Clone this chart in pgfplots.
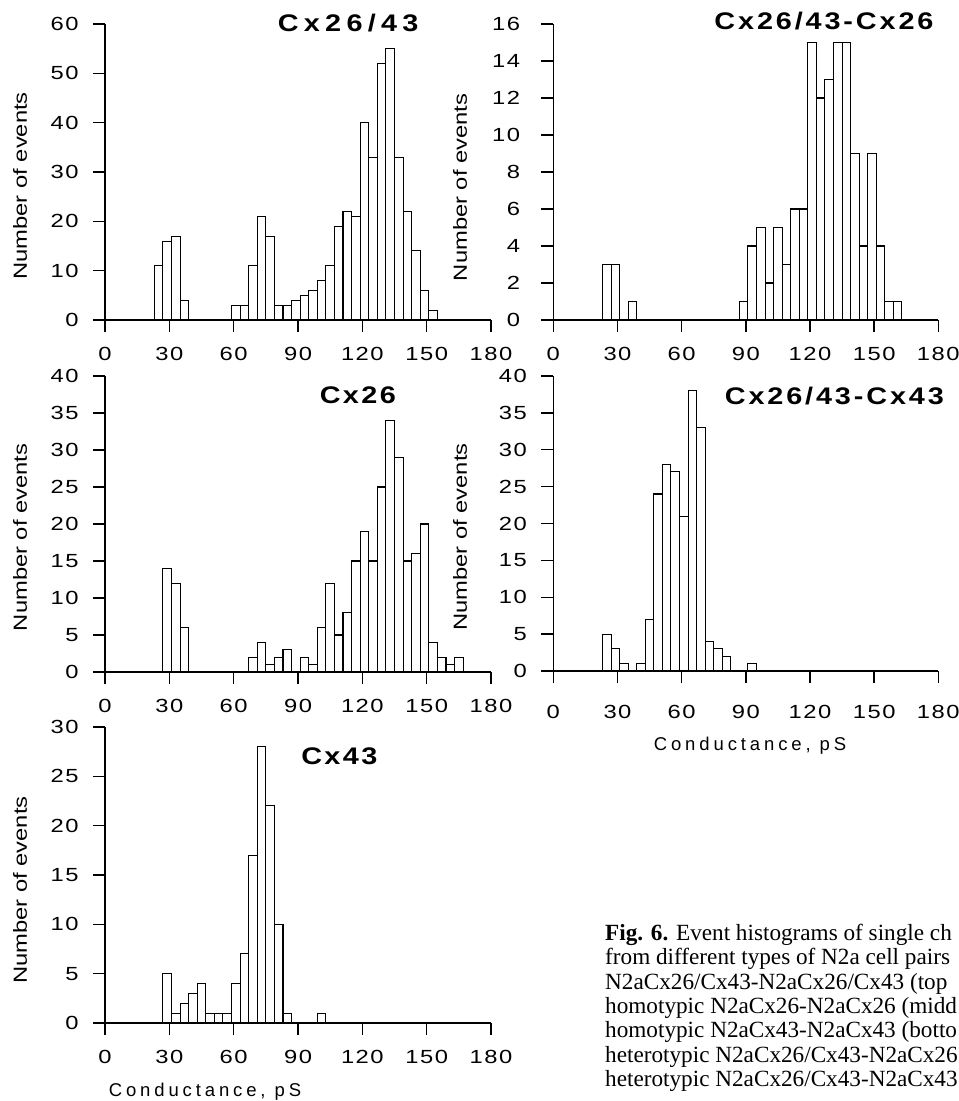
\documentclass[border=0pt]{standalone}
\usepackage{fontspec}
\usepackage{pgfplots}
\pgfplotsset{compat=1.18}
\setmainfont{Liberation Sans}
\newfontfamily\tickfont{Liberation Sans}[FakeStretch=1.25,LetterSpace=8]
\newfontfamily\ylabfont{Liberation Sans}[FakeStretch=1.25]
\newfontfamily\titlefont{Liberation Sans}[FakeStretch=1.2]
\newfontfamily\xlabfont{Liberation Sans}[LetterSpace=21]
\newfontfamily\capfont{Liberation Serif}

\pgfplotsset{
  hist/.style={
    scale only axis, width=386bp, height=296bp,
    xmin=0, xmax=180, ymin=0, enlargelimits=false, clip=false,
    axis lines=left, axis line style={-, line width=1.4bp},
    tick align=outside, major tick length=12bp,
    tick style={line width=1.4bp, black},
    xtick={0,30,...,180},
    /pgf/number format/assume math mode=true,
    tick label style={font=\tickfont\fontsize{19bp}{19bp}\selectfont},
    xticklabel style={yshift=-12bp},
    yticklabel style={xshift=-11bp},
    every axis y label/.style={rotate=90, anchor=center, font=\ylabfont\fontsize{19bp}{19bp}\selectfont},
    every axis x label/.style={anchor=base, font=\xlabfont\fontsize{18.5bp}{19bp}\selectfont},
    ylabel={Number of events},
  },
  bars/.style={ybar interval, draw=black, fill=white, line width=1.1bp},
}
\tikzset{
  ttl/.style={anchor=base, font=\titlefont\bfseries\fontsize{24bp}{24bp}\selectfont\addfontfeatures{LetterSpace=#1}},
  capline/.style={anchor=base west, inner sep=0pt, font=\capfont\fontsize{23.2bp}{24bp}\selectfont},
}

\begin{document}
\begin{tikzpicture}
\useasboundingbox (0,0) rectangle (959bp,1101bp);

% Cx26/43
\begin{axis}[hist, at={(105bp,781bp)}, anchor=south west,
  ymax=60, ytick={0,10,...,60},
  ylabel style={at={(axis description cs:-0.220,0.453)}}]
\addplot[bars] coordinates {(23,11) (27,16) (31,17) (35,4) (39,4)};
\addplot[bars] coordinates {(59,3) (63,3) (67,11) (71,21) (75,17) (79,3) (83,3) (87,4)
  (91,5) (95,6) (99,8) (103,11) (107,19) (111,22) (115,21) (119,40) (123,33)
  (127,52) (131,55) (135,33) (139,22) (143,14) (147,6) (151,2) (155,2)};
\node[ttl=22] at (axis description cs:0.630,0.976) {Cx26/43};
\end{axis}

% Cx26/43-Cx26
\begin{axis}[hist, at={(553.3bp,781bp)}, anchor=south west, width=385bp,
  ymax=16, ytick={0,2,...,16}, yticklabel style={xshift=-6.6bp},
  ylabel style={at={(axis description cs:-0.242,0.448)}}]
\addplot[bars] coordinates {(23,3) (27,3) (31,3)};
\addplot[bars] coordinates {(35,1) (39,1)};
\addplot[bars] coordinates {(87,1) (91,4) (95,5) (99,2) (103,5) (107,3) (111,6) (115,6)
  (119,15) (123,12) (127,13) (131,15) (135,15) (139,9) (143,4) (147,9) (151,4)
  (155,1) (159,1) (163,1)};
\node[ttl=12] at (axis description cs:0.703,0.980) {Cx26/43-Cx26};
\end{axis}

% Cx26
\begin{axis}[hist, at={(105bp,429bp)}, anchor=south west,
  ymax=40, ytick={0,5,...,40},
  ylabel style={at={(axis description cs:-0.220,0.455)}}]
\addplot[bars] coordinates {(27,14) (31,12) (35,6) (39,6)};
\addplot[bars] coordinates {(67,2) (71,4) (75,1) (79,2) (83,3) (87,3)};
\addplot[bars] coordinates {(91,2) (95,1) (99,6) (103,12) (107,5) (111,8) (115,15)
  (119,19) (123,15) (127,25) (131,34) (135,29) (139,15) (143,16) (147,20) (151,4)
  (155,2) (159,1) (163,2) (167,2)};
\node[ttl=10] at (axis description cs:0.655,0.908) {Cx26};
\end{axis}

% Cx26/43-Cx43
\begin{axis}[hist, at={(553.3bp,430bp)}, anchor=south west, width=385bp, height=295bp,
  ymax=40, ytick={0,5,...,40}, xticklabel style={yshift=-6.5bp},
  ylabel style={at={(axis description cs:-0.242,0.454)}},
  xlabel={Conductance, pS},
  xlabel style={at={(axis description cs:0.511,-0.27)}}]
\addplot[bars] coordinates {(23,5) (27,3) (31,1) (35,1)};
\addplot[bars] coordinates {(39,1) (43,7) (47,24) (51,28) (55,27) (59,21) (63,38)
  (67,33) (71,4) (75,3) (79,2) (83,2)};
\addplot[bars] coordinates {(91,1) (95,1)};
\node[ttl=12] at (axis description cs:0.730,0.905) {Cx26/43-Cx43};
\end{axis}

% Cx43
\begin{axis}[hist, at={(105bp,78bp)}, anchor=south west,
  ymax=30, ytick={0,5,...,30},
  ylabel style={at={(axis description cs:-0.220,0.449)}},
  xlabel={Conductance, pS},
  xlabel style={at={(axis description cs:0.259,-0.247)}}]
\addplot[bars] coordinates {(27,5) (31,1) (35,2) (39,3) (43,4) (47,1) (51,1) (55,1)
  (59,4) (63,7) (67,17) (71,28) (75,22) (79,10) (83,1) (87,1)};
\addplot[bars] coordinates {(99,1) (103,1)};
\node[ttl=10] at (axis description cs:0.607,0.874) {Cx43};
\end{axis}

% caption
\node[capline] at (605bp,160.3bp) {\textbf{Fig. 6.} Event histograms of single ch};
\node[capline] at (605bp,136.0bp) {from different types of N2a cell pairs};
\node[capline] at (605bp,111.7bp) {N2aCx26/Cx43-N2aCx26/Cx43 (top};
\node[capline] at (605bp,87.4bp) {homotypic N2aCx26-N2aCx26 (midd};
\node[capline] at (605bp,63.1bp) {homotypic N2aCx43-N2aCx43 (botto};
\node[capline] at (605bp,38.8bp) {heterotypic N2aCx26/Cx43-N2aCx26};
\node[capline] at (605bp,14.5bp) {heterotypic N2aCx26/Cx43-N2aCx43};
\end{tikzpicture}
\end{document}
